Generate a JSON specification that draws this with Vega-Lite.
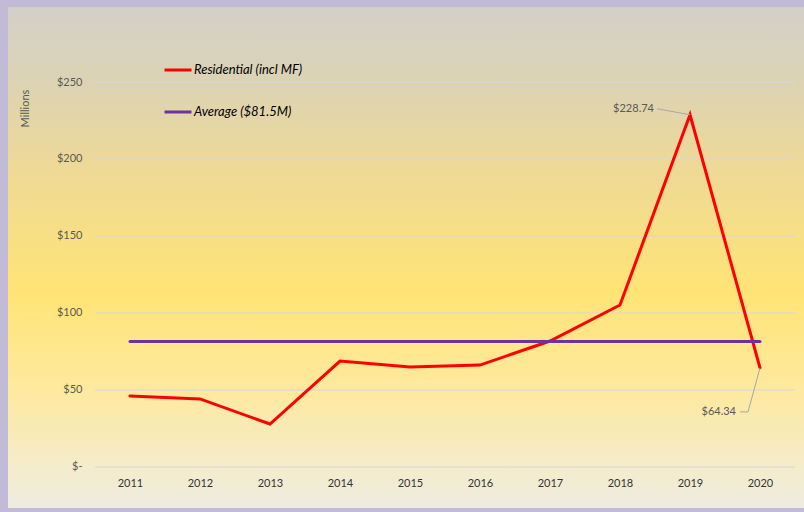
{
  "$schema": "https://vega.github.io/schema/vega-lite/v6.json",
  "width": 796,
  "height": 501,
  "autosize": {"type": "none"},
  "padding": {"left": 8, "top": 7, "right": 0, "bottom": 4},
  "background": "#c1bbd8",
  "config": {"view": {"stroke": null}, "font": "Lato", "axis": {"zindex": 1}},
  "datasets": {
    "main": [
      {"year": 2011, "value": 46.1, "series": "Residential (incl MF)"},
      {"year": 2012, "value": 44.2, "series": "Residential (incl MF)"},
      {"year": 2013, "value": 27.9, "series": "Residential (incl MF)"},
      {"year": 2014, "value": 68.8, "series": "Residential (incl MF)"},
      {"year": 2015, "value": 64.9, "series": "Residential (incl MF)"},
      {"year": 2016, "value": 66.2, "series": "Residential (incl MF)"},
      {"year": 2017, "value": 81.8, "series": "Residential (incl MF)"},
      {"year": 2018, "value": 105.2, "series": "Residential (incl MF)"},
      {"year": 2019, "value": 228.74, "series": "Residential (incl MF)"},
      {"year": 2020, "value": 64.34, "series": "Residential (incl MF)"},
      {"year": 2011, "value": 81.5, "series": "Average ($81.5M)"},
      {"year": 2012, "value": 81.5, "series": "Average ($81.5M)"},
      {"year": 2013, "value": 81.5, "series": "Average ($81.5M)"},
      {"year": 2014, "value": 81.5, "series": "Average ($81.5M)"},
      {"year": 2015, "value": 81.5, "series": "Average ($81.5M)"},
      {"year": 2016, "value": 81.5, "series": "Average ($81.5M)"},
      {"year": 2017, "value": 81.5, "series": "Average ($81.5M)"},
      {"year": 2018, "value": 81.5, "series": "Average ($81.5M)"},
      {"year": 2019, "value": 81.5, "series": "Average ($81.5M)"},
      {"year": 2020, "value": 81.5, "series": "Average ($81.5M)"}
    ],
    "grid": [{"v": 0}, {"v": 50}, {"v": 100}, {"v": 150}, {"v": 200}, {"v": 250}]
  },
  "layer": [
    {
      "data": {"values": [{}]},
      "mark": {
        "type": "rect",
        "fill": {
          "gradient": "linear", "x1": 0, "y1": 0, "x2": 0, "y2": 1,
          "stops": [
            {"offset": 0, "color": "#d3d0c9"},
            {"offset": 0.15, "color": "#dcd3b4"},
            {"offset": 0.3, "color": "#ecd89a"},
            {"offset": 0.57, "color": "#ffe475"},
            {"offset": 0.77, "color": "#fde9a0"},
            {"offset": 0.92, "color": "#f4eccc"},
            {"offset": 1, "color": "#eeebe0"}
          ]
        }
      },
      "encoding": {}
    },
    {
      "data": {"name": "grid"},
      "mark": {"type": "rule", "color": "#d6d6dc", "strokeWidth": 1},
      "encoding": {
        "x": {"datum": 2010.5, "type": "quantitative", "scale": {"domain": [2009.257143, 2020.628571], "nice": false, "zero": false},
          "axis": {
            "orient": "bottom", "offset": -41, "values": [2011, 2012, 2013, 2014, 2015, 2016, 2017, 2018, 2019, 2020],
            "format": "d", "domain": false, "ticks": false, "tickSize": 0, "grid": false, "labelPadding": 10,
            "labelFontSize": 11, "labelColor": "#333333", "title": null, "labelFont": "Lato", "zindex": 1
          }},
        "x2": {"datum": 2020.5},
        "y": {"field": "v", "type": "quantitative", "scale": {"domain": [-26.6234, 298.7013], "nice": false, "zero": false},
          "axis": {
            "orient": "left", "offset": -78, "values": [0, 50, 100, 150, 200, 250],
            "labelExpr": "datum.value == 0 ? '$-' : '$' + datum.value",
            "domain": false, "ticks": false, "tickSize": 0, "grid": false, "labelPadding": 4,
            "labelFontSize": 11, "labelColor": "#595959", "labelFont": "Lato",
            "title": "Millions", "titleFont": "Lato", "titleFontSize": 11, "titleFontWeight": "normal", "titleColor": "#595959",
            "titleX": -61, "titleY": 101, "titleAngle": -90, "titleAlign": "center", "titleBaseline": "middle", "zindex": 1
          }}
      }
    },
    {
      "data": {"name": "main"},
      "mark": {"type": "line", "strokeWidth": 3, "strokeCap": "round"},
      "encoding": {
        "x": {"field": "year", "type": "quantitative"},
        "y": {"field": "value", "type": "quantitative"},
        "color": {
          "field": "series", "type": "nominal",
          "scale": {"domain": ["Residential (incl MF)", "Average ($81.5M)"], "range": ["#ff0000", "#7030a0"]},
          "legend": {
            "orient": "none", "legendX": 155, "legendY": 48, "title": null,
            "symbolType": "stroke", "symbolSize": 729, "symbolStrokeWidth": 3,
            "labelFont": "Lato", "labelFontSize": 13, "labelFontStyle": "italic", "labelColor": "#000000",
            "labelOffset": 1, "rowPadding": 20, "padding": 0
          }
        },
        "detail": {"field": "series"}
      }
    },
    {
      "data": {"name": "main"},
      "transform": [{"filter": "datum.series == 'Residential (incl MF)' && datum.year == 2019"}],
      "mark": {"type": "rule", "color": "#a6a6b0", "strokeWidth": 1, "x2Offset": -33, "y2Offset": -6},
      "encoding": {
        "x": {"field": "year", "type": "quantitative"},
        "y": {"field": "value", "type": "quantitative"},
        "x2": {"field": "year"},
        "y2": {"field": "value"}
      }
    },
    {
      "data": {"name": "main"},
      "transform": [{"filter": "datum.series == 'Residential (incl MF)' && datum.year == 2020"}],
      "mark": {"type": "rule", "color": "#a6a6b0", "strokeWidth": 1, "x2Offset": -12, "y2Offset": 44},
      "encoding": {
        "x": {"field": "year", "type": "quantitative"},
        "y": {"field": "value", "type": "quantitative"},
        "x2": {"field": "year"},
        "y2": {"field": "value"}
      }
    },
    {
      "data": {"name": "main"},
      "transform": [{"filter": "datum.series == 'Residential (incl MF)' && datum.year == 2020"}],
      "mark": {"type": "rule", "color": "#a6a6b0", "strokeWidth": 1, "xOffset": -12, "yOffset": 44, "x2Offset": -20, "y2Offset": 44},
      "encoding": {
        "x": {"field": "year", "type": "quantitative"},
        "y": {"field": "value", "type": "quantitative"},
        "x2": {"field": "year"},
        "y2": {"field": "value"}
      }
    },
    {
      "data": {"name": "main"},
      "transform": [{"filter": "datum.series == 'Residential (incl MF)' && datum.year == 2019"}],
      "mark": {"type": "text", "align": "right", "baseline": "middle", "dx": -36, "dy": -6, "fontSize": 11, "color": "#595959", "font": "Lato"},
      "encoding": {
        "x": {"field": "year", "type": "quantitative"},
        "y": {"field": "value", "type": "quantitative"},
        "text": {"field": "value", "type": "quantitative", "format": "$.2f"}
      }
    },
    {
      "data": {"name": "main"},
      "transform": [{"filter": "datum.series == 'Residential (incl MF)' && datum.year == 2020"}],
      "mark": {"type": "text", "align": "right", "baseline": "middle", "dx": -24, "dy": 44, "fontSize": 11, "color": "#595959", "font": "Lato"},
      "encoding": {
        "x": {"field": "year", "type": "quantitative"},
        "y": {"field": "value", "type": "quantitative"},
        "text": {"field": "value", "type": "quantitative", "format": "$.2f"}
      }
    }
  ]
}
